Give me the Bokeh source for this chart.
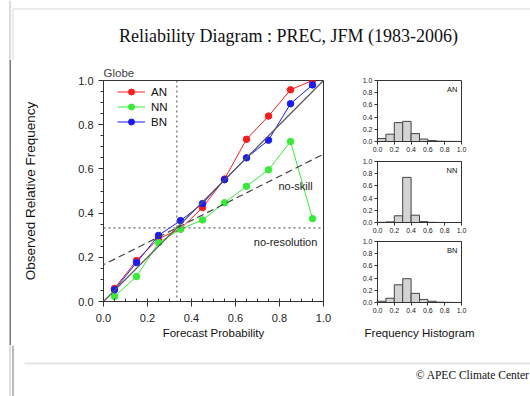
from bokeh.plotting import figure
from bokeh.layouts import column, row
from bokeh.models import (Span, Slope, Label, BoxAnnotation, SingleIntervalTicker,
                          PrintfTickFormatter, Range1d, Div)
from bokeh.embed import file_html
from bokeh.resources import INLINE

# ---------------- data ----------------
title_text = "Reliability Diagram : PREC, JFM (1983-2006)"
region = "Globe"
categories = ["AN", "NN", "BN"]
prob_bins = [0.05, 0.15, 0.25, 0.35, 0.45, 0.55, 0.65, 0.75, 0.85, 0.95]
an_obs = [0.059, 0.185, 0.284, 0.328, 0.425, 0.554, 0.734, 0.839, 0.958, 1.0]
nn_obs = [0.023, 0.113, 0.266, 0.327, 0.369, 0.447, 0.521, 0.596, 0.724, 0.375]
bn_obs = [0.053, 0.176, 0.299, 0.366, 0.443, 0.551, 0.650, 0.730, 0.895, 0.980]
an_hist = [0.05, 0.12, 0.31, 0.33, 0.13, 0.04, 0.015, 0.005, 0.002, 0.001]
nn_hist = [0.003, 0.01, 0.11, 0.74, 0.12, 0.015, 0.003, 0.001, 0.0, 0.0]
bn_hist = [0.02, 0.07, 0.29, 0.39, 0.15, 0.05, 0.02, 0.005, 0.002, 0.001]
climatology = 1.0 / 3.0
footer_text = "\u00a9 APEC Climate Center"

SANS = "Liberation Sans"
SERIF = "Liberation Serif"
AXC = "#333333"
OUTER = "#bbbbbb"
INNER = "#777777"


def deco_fig(w, h, x0, y0):
    f = figure(width=w, height=h, x_range=Range1d(x0, x0 + w), y_range=Range1d(y0 + h, y0),
               min_border_left=0, min_border_right=0, min_border_top=0, min_border_bottom=0,
               x_axis_location=None, y_axis_location=None, title=None,
               toolbar_location=None, output_backend="svg")
    f.outline_line_color = None
    f.grid.visible = False
    f.add_layout(Span(location=9.5, dimension="height", line_color=OUTER, line_width=1))
    return f


# ---------------- title strip ----------------
top = deco_fig(530, 60, 0, 0)
top.add_layout(BoxAnnotation(left=12.5, right=700, top=8.5, bottom=500, fill_color=None,
                             line_color=INNER, line_width=1))
top.add_layout(Label(x=288, y=35, text=title_text, text_align="center", text_baseline="middle",
                     text_font=SERIF, text_font_size="18px", text_color="#111111"))

# ---------------- left strip (page border only) ----------------
left = Div(width=20, height=285, margin=0,
           text=('<div style="margin:0 0 0 9px;padding:0;width:2px;height:285px;'
                 'border-left:1px solid %s;border-right:1px solid %s;"></div>') % (OUTER, INNER))

# ---------------- main reliability plot ----------------
p = figure(width=325, height=285, x_range=Range1d(0, 1), y_range=Range1d(0, 1),
           min_border_left=82, min_border_right=22, min_border_top=20, min_border_bottom=44,
           toolbar_location=None, output_backend="svg", title=region)
p.title.text_font = SANS
p.title.text_font_size = "11.5px"
p.title.text_font_style = "normal"
p.title.align = "left"
p.title.offset = 0
p.title.standoff = 4
p.grid.visible = False
p.outline_line_color = AXC
p.outline_line_width = 1

for ax in (p.xaxis[0], p.yaxis[0]):
    ax.ticker = SingleIntervalTicker(interval=0.2, num_minor_ticks=4)
    ax.formatter = PrintfTickFormatter(format="%.1f")
    ax.axis_line_color = AXC
    ax.major_tick_line_color = AXC
    ax.minor_tick_line_color = AXC
    ax.major_label_text_font = SANS
    ax.major_label_text_font_size = "11px"
    ax.major_label_text_color = "#222222"
    ax.axis_label_text_font = SANS
    ax.axis_label_text_font_style = "normal"
    ax.axis_label_text_color = "#111111"

p.xaxis.axis_label = "Forecast Probability"
p.xaxis.axis_label_text_font_size = "11.5px"
p.xaxis.major_tick_in = 2
p.xaxis.major_tick_out = 5
p.xaxis.minor_tick_in = 3
p.xaxis.minor_tick_out = 0
p.xaxis.major_label_standoff = 7
p.xaxis.axis_label_standoff = 2

p.yaxis.axis_label = "Observed Relative Frequency"
p.yaxis.axis_label_text_font_size = "13.5px"
p.yaxis.major_tick_in = 0
p.yaxis.major_tick_out = 5
p.yaxis.minor_tick_in = 0
p.yaxis.minor_tick_out = 3
p.yaxis.major_label_standoff = 5
p.yaxis.axis_label_standoff = 37

p.add_layout(Slope(gradient=1, y_intercept=0, line_color="#555555", line_width=1.2))
p.add_layout(Slope(gradient=0.5, y_intercept=climatology / 2, line_color="#444444",
                   line_width=1.2, line_dash="7 4"))
p.add_layout(Span(location=climatology, dimension="width", line_color="#666666",
                  line_width=1.2, line_dash="2 3"))
p.add_layout(Span(location=climatology, dimension="height", line_color="#666666",
                  line_width=1.2, line_dash="2 3"))
p.add_layout(Label(x=0.795, y=0.523, text="no-skill", text_baseline="middle",
                   text_font=SANS, text_font_size="11px", text_color="#222222"))
p.add_layout(Label(x=0.683, y=0.27, text="no-resolution", text_baseline="middle",
                   text_font=SANS, text_font_size="11px", text_color="#222222"))

series = {"AN": (an_obs, "#ff1a1a"), "NN": (nn_obs, "#33ee33"), "BN": (bn_obs, "#1a1aff")}
for name in categories:
    obs, col = series[name]
    p.line(prob_bins, obs, line_color=col, line_width=1, legend_label=name)
    p.scatter(prob_bins, obs, size=6.5, fill_color=col, line_color=col, legend_label=name)

lg = p.legend[0]
lg.location = (14, 172)
lg.padding = 0
lg.margin = 0
lg.spacing = 0
lg.glyph_width = 28
lg.glyph_height = 15
lg.label_height = 15
lg.label_standoff = 6
lg.border_line_color = None
lg.background_fill_alpha = 0
lg.label_text_font = SANS
lg.label_text_font_size = "11.5px"
lg.label_text_color = "#111111"

# ---------------- histograms ----------------
hist_data = {"AN": an_hist, "NN": nn_hist, "BN": bn_hist}
heights = {"AN": (97, 20, 16), "NN": (80, 4, 15), "BN": (108, 4, 43)}
hists = []
for name in categories:
    h, bt, bb = heights[name]
    f = figure(width=185, height=h, x_range=Range1d(0, 1), y_range=Range1d(0, 1),
               min_border_left=32, min_border_right=69, min_border_top=bt, min_border_bottom=bb,
               toolbar_location=None, output_backend="svg", title=None)
    f.grid.visible = False
    f.outline_line_color = AXC
    f.vbar(x=prob_bins, top=hist_data[name], width=0.1, bottom=0,
           fill_color="#d3d3d3", line_color="#444444", line_width=1)
    for ax in (f.xaxis[0], f.yaxis[0]):
        ax.ticker = SingleIntervalTicker(interval=0.2, num_minor_ticks=0)
        ax.formatter = PrintfTickFormatter(format="%.1f")
        ax.axis_line_color = AXC
        ax.major_tick_line_color = AXC
        ax.major_tick_in = 0
        ax.major_tick_out = 3
        ax.major_label_standoff = 2
        ax.major_label_text_font = SANS
        ax.major_label_text_font_size = "7px"
        ax.major_label_text_color = "#222222"
    f.add_layout(Label(x=0.95, y=0.86, text=name, text_align="right", text_baseline="middle",
                       text_font=SANS, text_font_size="7.5px", text_color="#111111"))
    hists.append(f)

hists[-1].xaxis.axis_label = "Frequency Histogram"
hists[-1].xaxis.axis_label_text_font = SANS
hists[-1].xaxis.axis_label_text_font_size = "11.5px"
hists[-1].xaxis.axis_label_text_font_style = "normal"
hists[-1].xaxis.axis_label_text_color = "#111111"
hists[-1].xaxis.axis_label_standoff = 11

# ---------------- footer ----------------
bot = deco_fig(530, 51, 0, 345)
bot.add_layout(Span(location=12.5, dimension="height", line_color=INNER, line_width=1))
bot.add_layout(BoxAnnotation(left=24, right=700, top=363, bottom=363, fill_color=None,
                             line_color="#999999", line_width=1.5))
bot.add_layout(Label(x=529, y=374, text=footer_text, text_align="right", text_baseline="middle",
                     text_font=SERIF, text_font_size="11.5px", text_color="#111111"))

layout = column(top, row(left, p, column(*hists, spacing=0), spacing=0), bot, spacing=0)
open("out.html", "w").write(file_html(layout, INLINE))
